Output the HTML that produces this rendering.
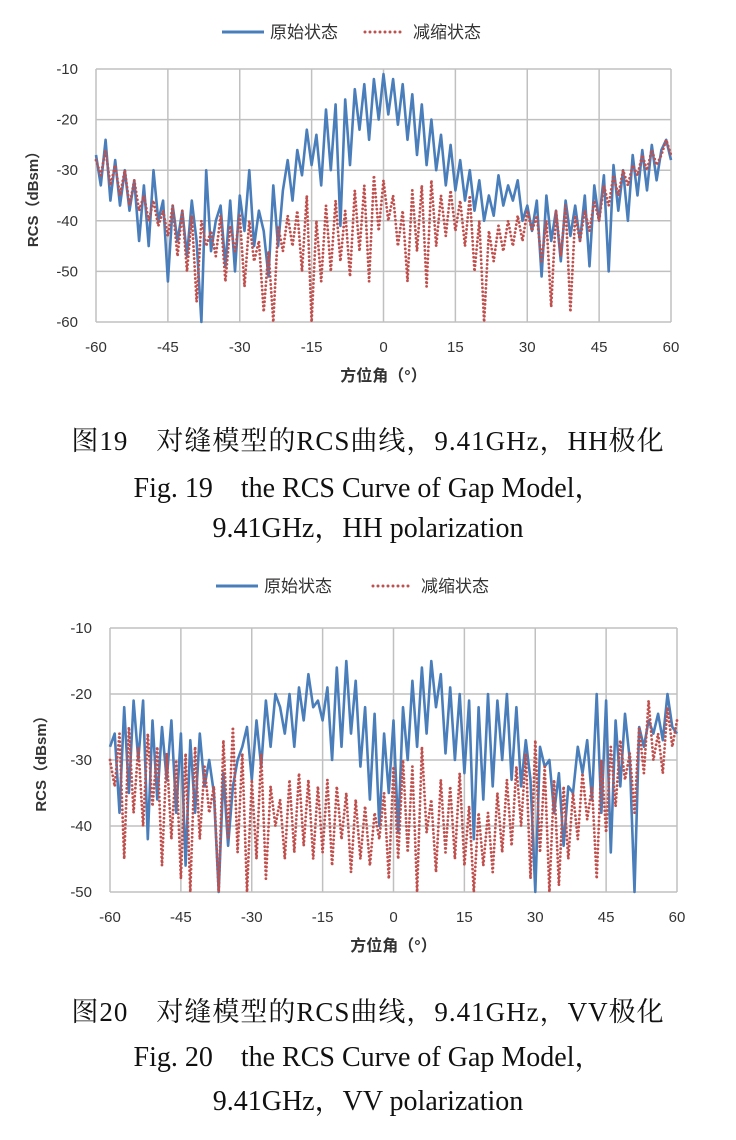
<!DOCTYPE html>
<html><head><meta charset="utf-8">
<style>
html,body{margin:0;padding:0;background:#fff;}
body{width:736px;height:1140px;position:relative;overflow:hidden;}
svg{position:absolute;left:0;top:0;}
.cap{position:absolute;left:0;width:736px;text-align:center;font-family:"Liberation Serif","Noto Serif CJK SC",serif;font-size:28px;color:#111;white-space:pre;}
.cn{font-size:27px;letter-spacing:1px;}
</style></head>
<body>
<svg id="chart" width="736" height="1140"></svg>
<div class="cap cn" style="top:419px">图19　对缝模型的RCS曲线，9.41GHz，HH极化</div>
<div class="cap" style="top:466px">Fig. 19　the RCS Curve of Gap Model，</div>
<div class="cap" style="top:506px">9.41GHz，HH polarization</div>
<div class="cap cn" style="top:990px">图20　对缝模型的RCS曲线，9.41GHz，VV极化</div>
<div class="cap" style="top:1035px">Fig. 20　the RCS Curve of Gap Model，</div>
<div class="cap" style="top:1079px">9.41GHz，VV polarization</div>
<script>
const angles = []; for (let a=-60;a<=60;a++) angles.push(a);
const xTicks = [-60,-45,-30,-15,0,15,30,45,60];
const hhYTicks = [-10,-20,-30,-40,-50,-60];
const vvYTicks = [-10,-20,-30,-40,-50];
const hhOriginal = [-27,-33,-24,-36,-28,-37,-30,-38,-32,-44,-33,-45,-30,-40,-36,-52,-37,-44,-38,-47,-36,-44,-60,-30,-46,-40,-37,-49,-36,-50,-35,-42,-30,-45,-38,-42,-51,-33,-45,-34,-28,-36,-26,-31,-22,-29,-23,-33,-18,-30,-17,-41,-16,-29,-14,-22,-13,-24,-12,-20,-11,-19,-12,-21,-13,-24,-15,-27,-17,-29,-20,-30,-23,-33,-25,-34,-28,-36,-30,-38,-32,-40,-35,-39,-31,-37,-33,-36,-32,-40,-37,-42,-36,-51,-35,-44,-38,-48,-36,-43,-37,-44,-35,-49,-33,-40,-31,-50,-29,-38,-30,-40,-27,-35,-26,-34,-25,-32,-26,-24,-28];
const hhReduced = [-28,-31,-26,-33,-29,-35,-30,-37,-32,-38,-35,-40,-36,-41,-38,-43,-37,-47,-38,-50,-39,-56,-40,-45,-42,-47,-39,-52,-41,-46,-39,-53,-40,-48,-44,-58,-46,-60,-41,-46,-39,-45,-38,-50,-35,-60,-40,-52,-37,-50,-36,-48,-38,-51,-34,-46,-33,-52,-31,-42,-32,-40,-35,-45,-38,-52,-34,-46,-33,-53,-32,-45,-35,-43,-34,-42,-36,-45,-35,-50,-40,-60,-42,-48,-41,-46,-40,-45,-39,-44,-38,-42,-39,-48,-40,-57,-38,-47,-37,-58,-39,-44,-38,-42,-36,-40,-33,-37,-31,-35,-30,-33,-29,-31,-27,-30,-26,-29,-27,-24,-27];
const vvOriginal = [-28,-26,-38,-22,-35,-21,-30,-21,-42,-24,-36,-25,-33,-24,-38,-26,-46,-27,-38,-26,-34,-30,-35,-50,-32,-43,-34,-30,-28,-25,-33,-24,-31,-21,-28,-20,-22,-26,-20,-28,-19,-24,-17,-22,-21,-24,-19,-30,-16,-28,-15,-26,-18,-31,-22,-36,-23,-40,-26,-35,-24,-41,-22,-30,-18,-28,-16,-26,-15,-22,-17,-29,-19,-30,-20,-32,-21,-42,-22,-36,-20,-34,-21,-30,-20,-33,-22,-34,-27,-33,-50,-28,-31,-30,-38,-32,-43,-34,-35,-28,-32,-27,-36,-20,-38,-21,-44,-24,-34,-23,-30,-50,-25,-28,-24,-26,-23,-27,-20,-25,-26];
const vvReduced = [-30,-34,-26,-45,-25,-38,-28,-40,-26,-37,-28,-46,-29,-42,-30,-48,-29,-50,-28,-42,-31,-38,-34,-50,-27,-42,-25,-44,-29,-50,-33,-45,-29,-48,-34,-40,-36,-45,-33,-44,-32,-43,-33,-45,-34,-44,-33,-46,-34,-42,-35,-47,-36,-45,-37,-46,-38,-42,-35,-48,-31,-45,-30,-44,-31,-50,-28,-41,-36,-47,-33,-44,-34,-45,-32,-46,-37,-50,-38,-46,-38,-47,-35,-44,-33,-43,-31,-40,-29,-48,-27,-44,-31,-50,-33,-49,-34,-45,-35,-42,-32,-39,-34,-48,-30,-41,-28,-37,-27,-33,-29,-38,-25,-32,-21,-30,-26,-32,-22,-28,-24];

const NS="http://www.w3.org/2000/svg";
const svg=document.getElementById('chart');
function mk(tag,attrs,parent){const e=document.createElementNS(NS,tag);for(const k in attrs)e.setAttribute(k,attrs[k]);(parent||svg).appendChild(e);return e;}
const SANS='"Liberation Sans","Noto Sans CJK SC",sans-serif';

function drawChart(cfg){
  const g=mk('g',{});
  
  
  const x=v=>cfg.left+(v+60)/120*(cfg.right-cfg.left);
  const yMax=cfg.yTicks[0], yMin=cfg.yTicks[cfg.yTicks.length-1];
  const y=v=>cfg.top+(yMax-v)/(yMax-yMin)*(cfg.bottom-cfg.top);
  cfg.yTicks.forEach(t=>{
    const l=mk('line',{x1:cfg.left,x2:cfg.right,y1:y(t),y2:y(t),stroke:'#c0c0c0','stroke-width':1.5},g);
    
    
    const tx=mk('text',{x:cfg.left-18,y:y(t)+5,'text-anchor':'end','font-size':15,'font-family':SANS,fill:'#333'},g);
    tx.textContent=t;
    
    
  });
  xTicks.forEach(t=>{
    const l=mk('line',{x1:x(t),x2:x(t),y1:cfg.top,y2:cfg.bottom,stroke:'#c0c0c0','stroke-width':1.5},g);
    
    
    const tx=mk('text',{x:x(t),y:cfg.bottom+30,'text-anchor':'middle','font-size':15,'font-family':SANS,fill:'#333'},g);
    tx.textContent=t;
    
    
  });
  const pts=arr=>arr.map((v,i)=>x(angles[i]).toFixed(1)+','+y(v).toFixed(1)).join(' ');
  const b=mk('polyline',{points:pts(cfg.orig),fill:'none',stroke:'#4a7ebb','stroke-width':2.6,'stroke-linejoin':'round'},g);
  
  
  const r=mk('polyline',{points:pts(cfg.red),fill:'none',stroke:'#c0504d','stroke-width':2.8,'stroke-dasharray':'0,4','stroke-linecap':'round'},g);
  
  
  const xt=mk('text',{x:(cfg.left+cfg.right)/2,y:cfg.bottom+59,'text-anchor':'middle','font-size':16,'font-weight':'bold','font-family':SANS,fill:'#333'},g);
  xt.textContent='方位角（°）';
  
  
  const cy=(cfg.top+cfg.bottom)/2;
  const yt=mk('text',{x:cfg.ytx,y:cy,'text-anchor':'middle','font-size':15,'font-weight':'bold','font-family':SANS,fill:'#333',transform:'rotate(-90 '+cfg.ytx+' '+cy+')'},g);
  yt.textContent='RCS（dBsm）';
  
  
  const lg=mk('g',{},g);
  
  
  const L=cfg.legend;
  const l1=mk('line',{x1:L.x1,x2:L.x1+42,y1:L.y,y2:L.y,stroke:'#4a7ebb','stroke-width':3},lg);
  
  
  const t1=mk('text',{x:L.x1+48,y:L.y+6,'font-size':17,'font-family':SANS,fill:'#333'},lg);
  t1.textContent='原始状态';
  
  
  const l2=mk('line',{x1:L.x2,x2:L.x2+40,y1:L.y,y2:L.y,stroke:'#c0504d','stroke-width':3,'stroke-dasharray':'0,5','stroke-linecap':'round'},lg);
  
  
  const t2=mk('text',{x:L.x2+48,y:L.y+6,'font-size':17,'font-family':SANS,fill:'#333'},lg);
  t2.textContent='减缩状态';
  
  
}
drawChart({name:'hh-chart',left:96,right:671,top:69,bottom:322,yTicks:hhYTicks,orig:hhOriginal,red:hhReduced,ytx:38,legend:{x1:222,x2:365,y:32}});
drawChart({name:'vv-chart',left:110,right:677,top:628,bottom:892,yTicks:vvYTicks,orig:vvOriginal,red:vvReduced,ytx:46,legend:{x1:216,x2:373,y:586}});
</script>
</body></html>
